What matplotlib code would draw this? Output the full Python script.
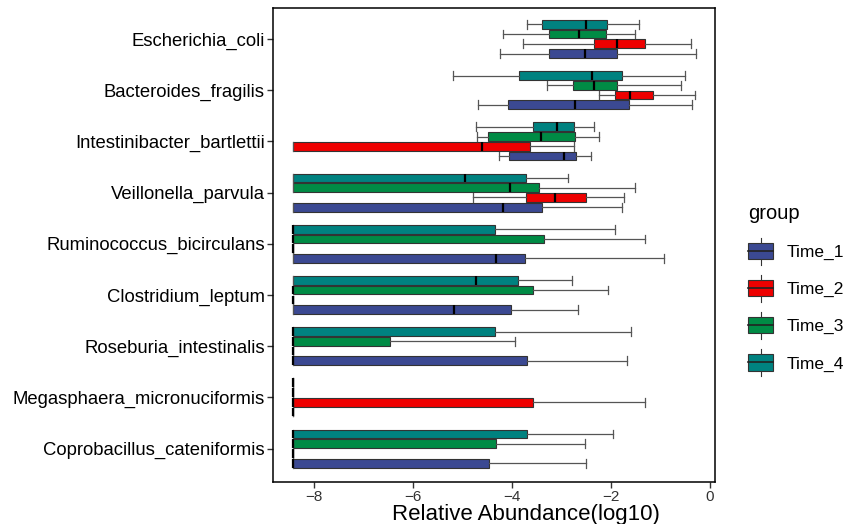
import numpy as np
import matplotlib
matplotlib.use("Agg")
import matplotlib.pyplot as plt
from matplotlib.patches import Rectangle
from matplotlib.lines import Line2D
from matplotlib.legend_handler import HandlerBase

plt.rcParams['font.family'] = ['Liberation Sans', 'DejaVu Sans']

species = ["Escherichia_coli", "Bacteroides_fragilis", "Intestinibacter_bartlettii",
           "Veillonella_parvula", "Ruminococcus_bicirculans", "Clostridium_leptum",
           "Roseburia_intestinalis", "Megasphaera_micronuciformis", "Coprobacillus_cateniformis"]
groups = ["Time_1", "Time_2", "Time_3", "Time_4"]
colors = ["#3B4992", "#EE0000", "#008B45", "#008280"]
floor = -8.42

# (whislo, q1, median, q3, whishi) per species, one list per group
time1 = [(-4.24, -3.25, -2.53, -1.88, -0.28),
         (-4.69, -4.08, -2.73, -1.63, -0.36),
         (-4.27, -4.06, -2.95, -2.71, -2.40),
         (floor, floor, -4.19, -3.39, -1.78),
         (floor, floor, -4.32, -3.74, -0.94),
         (floor, floor, -5.17, -4.03, -2.67),
         (floor, floor, floor, -3.70, -1.67),
         (floor, floor, floor, floor, floor),
         (floor, floor, floor, -4.47, -2.51)]
time2 = [(-3.77, -2.34, -1.87, -1.32, -0.38),
         (-2.24, -1.93, -1.62, -1.16, -0.30),
         (floor, floor, -4.60, -3.63, -2.74),
         (-4.78, -3.71, -3.13, -2.51, -1.74),
         (floor, floor, floor, floor, floor),
         (floor, floor, floor, floor, floor),
         (floor, floor, floor, floor, floor),
         (floor, floor, floor, -3.58, -1.32),
         (floor, floor, floor, floor, floor)]
time3 = [(-4.18, -3.26, -2.65, -2.10, -1.52),
         (-3.30, -2.76, -2.34, -1.87, -0.58),
         (-4.71, -4.48, -3.42, -2.72, -2.24),
         (floor, floor, -4.05, -3.45, -1.52),
         (floor, floor, floor, -3.36, -1.31),
         (floor, floor, floor, -3.58, -2.06),
         (floor, floor, floor, -6.46, -3.94),
         (floor, floor, floor, floor, floor),
         (floor, floor, floor, -4.32, -2.52)]
time4 = [(-3.70, -3.40, -2.50, -2.09, -1.43),
         (-5.20, -3.85, -2.39, -1.77, -0.50),
         (-4.73, -3.58, -3.10, -2.74, -2.34),
         (floor, floor, -4.95, -3.72, -2.88),
         (floor, floor, floor, -4.35, -1.93),
         (floor, floor, -4.73, -3.89, -2.79),
         (floor, floor, floor, -4.35, -1.59),
         (floor, floor, floor, floor, floor),
         (floor, floor, floor, -3.69, -1.97)]
all_data = [time1, time2, time3, time4]

n = len(species)
offsets = [-0.285, -0.095, 0.095, 0.285]
box_h = 0.17

fig = plt.figure(figsize=(8.48, 5.24), dpi=100)
ax = fig.add_axes([273 / 848, 1 - 482 / 524, (715 - 273) / 848, (482 - 8) / 524])

for g, data in enumerate(all_data):
    stats = []
    pos = []
    for i, (lo, q1, med, q3, hi) in enumerate(data):
        stats.append(dict(whislo=lo, q1=q1, med=med, q3=q3, whishi=hi, fliers=[]))
        pos.append(n - 1 - i + offsets[g])
    ax.bxp(stats, positions=pos, widths=box_h, orientation='horizontal',
           patch_artist=True, showfliers=False, capwidths=box_h,
           boxprops=dict(facecolor=colors[g], edgecolor="#333333", linewidth=0.8),
           medianprops=dict(color="black", linewidth=1.6),
           whiskerprops=dict(color="#555555", linewidth=0.9),
           capprops=dict(color="#555555", linewidth=0.9))

ax.set_ylim(-0.652, n - 1 + 0.605)
ax.set_xlim(-8.83, 0.1)
ax.set_yticks(range(n))
ax.set_yticklabels(species[::-1], fontsize=13.3, color="black")
ax.set_xticks([-8, -6, -4, -2, 0])
ax.set_xticklabels(["\u22128", "\u22126", "\u22124", "\u22122", "0"], fontsize=11, color="#333333")
ax.tick_params(axis='both', length=4, width=1, color="#333333", pad=2)
ax.set_xlabel("Relative Abundance(log10)", fontsize=16, va="baseline")
ax.xaxis.set_label_coords((526 - 273) / 442, -(520 - 482) / 474)
for s in ax.spines.values():
    s.set_linewidth(1.1)
    s.set_color("black")


class BoxKeyHandler(HandlerBase):
    def create_artists(self, legend, orig_handle, xdescent, ydescent, width, height, fontsize, trans):
        c = orig_handle.get_facecolor()
        x0, y0 = -xdescent, -ydescent
        w, h = width, height
        v = Line2D([x0 + w / 2, x0 + w / 2], [y0 - 0.35 * h, y0 + 1.35 * h], color="#333333", lw=0.8, transform=trans)
        r = Rectangle((x0, y0), w, h, facecolor=c, edgecolor="#333333", lw=0.8, transform=trans)
        m = Line2D([x0, x0 + w], [y0 + h / 2, y0 + h / 2], color="#222222", lw=1.2, transform=trans)
        return [v, r, m]


handles = [Rectangle((0, 0), 1, 1, facecolor=c) for c in colors]
leg = fig.legend(handles, groups, handler_map={Rectangle: BoxKeyHandler()},
                 loc="upper left", bbox_to_anchor=(743 / 848, 1 - 199 / 524),
                 title="group", title_fontsize=14.5, fontsize=12.5, frameon=False,
                 handlelength=1.45, handleheight=1.05, labelspacing=1.15, handletextpad=0.75,
                 borderpad=0.3, borderaxespad=0)
leg._legend_box.align = "left"

fig.savefig("out.png", dpi=100)
